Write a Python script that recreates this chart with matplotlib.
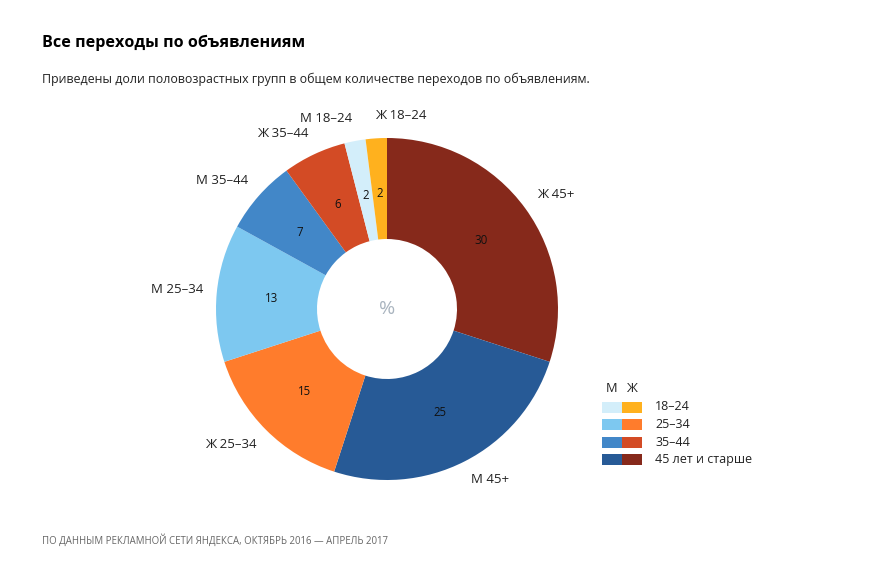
import matplotlib
matplotlib.use("Agg")
import matplotlib.pyplot as plt
from matplotlib.patches import Rectangle
import numpy as np

plt.rcParams["font.family"] = ["Open Sans", "DejaVu Sans"]

# slices, clockwise from 12 o'clock
labels = ["Ж 45+", "М 45+", "Ж 25–34", "М 25–34", "М 35–44", "Ж 35–44", "М 18–24", "Ж 18–24"]
values = [30, 25, 15, 13, 7, 6, 2, 2]
colors = ["#86291b", "#275a96", "#ff7c2c", "#7dc8f0", "#4287c8", "#d34b25", "#d3eefa", "#ffb11e"]

legend_groups = ["18–24", "25–34", "35–44", "45 лет и старше"]
legend_m = ["#d3eefa", "#7dc8f0", "#4287c8", "#275a96"]
legend_f = ["#ffb11e", "#ff7c2c", "#d34b25", "#86291b"]

W, H = 872, 572
fig = plt.figure(figsize=(W / 100, H / 100), dpi=100, facecolor="white")
ax = fig.add_axes([0, 0, 1, 1])

cx, cy = 387, H - 309
R, r_in = 171, 70

ax.pie(values, colors=colors, startangle=90, counterclock=False,
       center=(cx, cy), radius=R, frame=True,
       wedgeprops=dict(width=R - r_in, edgecolor="none", linewidth=0))
ax.set_xlim(0, W)
ax.set_ylim(0, H)
ax.axis("off")

total = sum(values)
start = 90.0
for lab, v in zip(labels, values):
    span = 360.0 * v / total
    mid = np.deg2rad(start - span / 2)
    start -= span
    # value inside the ring
    ax.text(cx + 116 * np.cos(mid), cy + 116 * np.sin(mid), str(v),
            ha="center", va="center", fontsize=8.3, color="#111111")
    # outer label
    ha = "left" if np.cos(mid) > -0.1 else "right"
    ax.text(cx + (R + 14) * np.cos(mid), cy + (R + 22) * np.sin(mid) + 1, lab,
            ha=ha, va="center", fontsize=9.5, color="#222222")

ax.text(cx, cy, "%", ha="center", va="center", fontsize=14, color="#a9b4bf")

# titles
ax.text(42, H - 43, "Все переходы по объявлениям", ha="left", va="center",
        fontsize=11.6, fontweight="bold", color="#000000")
ax.text(42, H - 79, "Приведены доли половозрастных групп в общем количестве переходов по объявлениям.",
        ha="left", va="center", fontsize=8.95, color="#222222")
ax.text(42, H - 541, "ПО ДАННЫМ РЕКЛАМНОЙ СЕТИ ЯНДЕКСА, ОКТЯБРЬ 2016 — АПРЕЛЬ 2017",
        ha="left", va="center", fontsize=6.9, color="#666666")

# legend
lx, sw, sh = 602, 20, 11
ax.text(lx + sw / 2, H - 388, "М", ha="center", va="center", fontsize=9.3, color="#222222")
ax.text(lx + sw * 1.5, H - 388, "Ж", ha="center", va="center", fontsize=9.3, color="#222222")
for i, (g, cm, cf) in enumerate(zip(legend_groups, legend_m, legend_f)):
    yc = H - (407 + i * 17.6)
    ax.add_patch(Rectangle((lx, yc - sh / 2), sw, sh, color=cm, lw=0))
    ax.add_patch(Rectangle((lx + sw, yc - sh / 2), sw, sh, color=cf, lw=0))
    ax.text(655, yc, g, ha="left", va="center", fontsize=9, color="#222222")

fig.savefig("out.png", dpi=100, facecolor="white")
